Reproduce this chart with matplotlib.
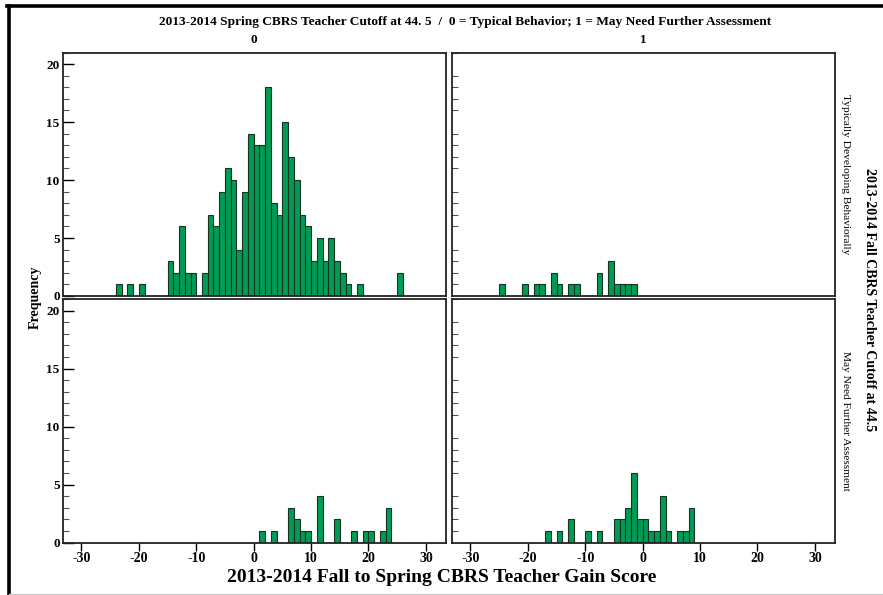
"""Faceted histograms of fall-to-spring CBRS teacher gain scores."""

import matplotlib

matplotlib.use("Agg")
import matplotlib.pyplot as plt
from matplotlib.lines import Line2D
from matplotlib.ticker import MultipleLocator

plt.rcParams["font.family"] = ["Liberation Serif", "DejaVu Serif"]
plt.rcParams["axes.unicode_minus"] = False

# Counts per one-point bin, keyed by the bin's left edge.
# Row = fall group, column = spring group (0 typical, 1 may need assessment).
typical_0_edges = [-24, -22, -20, -15, -14, -13, -12, -11, -9, -8, -7, -6, -5, -4,
                   -3, -2, -1, 0, 1, 2, 3, 4, 5, 6, 7, 8, 9, 10, 11, 12, 13, 14,
                   15, 16, 18, 25]
typical_0_counts = [1, 1, 1, 3, 2, 6, 2, 2, 2, 7, 6, 9, 11, 10,
                    4, 9, 14, 13, 13, 18, 8, 7, 15, 12, 10, 7, 6, 3, 5, 3, 5, 3,
                    2, 1, 1, 2]

typical_1_edges = [-25, -21, -19, -18, -16, -15, -13, -12, -8, -6, -5, -4, -3, -2]
typical_1_counts = [1, 1, 1, 1, 2, 1, 1, 1, 2, 3, 1, 1, 1, 1]

assess_0_edges = [1, 3, 6, 7, 8, 9, 11, 14, 17, 19, 20, 22, 23]
assess_0_counts = [1, 1, 3, 2, 1, 1, 4, 2, 1, 1, 1, 1, 3]

assess_1_edges = [-17, -15, -13, -10, -8, -5, -4, -3, -2, -1, 0, 1, 2, 3, 4, 6, 7, 8]
assess_1_counts = [1, 1, 2, 1, 1, 2, 2, 3, 6, 2, 2, 1, 1, 4, 1, 1, 1, 3]

col_labels = ["0", "1"]
row_labels = ["Typically Developing Behaviorally", "May Need Further Assessment"]
x_ticks = [-30, -20, -10, 0, 10, 20, 30]
y_ticks = [0, 5, 10, 15, 20]

title = ("2013-2014 Spring CBRS Teacher Cutoff at 44. 5  /  "
         "0 = Typical Behavior; 1 = May Need Further Assessment")
x_label = "2013-2014 Fall to Spring CBRS Teacher Gain Score"
y_label = "Frequency"
row_title = "2013-2014 Fall CBRS Teacher Cutoff at 44.5"

BAR_FILL = "#009b55"
BAR_EDGE = "#163322"
W, H = 883, 595

panels = [
    [(typical_0_edges, typical_0_counts), (typical_1_edges, typical_1_counts)],
    [(assess_0_edges, assess_0_counts), (assess_1_edges, assess_1_counts)],
]

fig = plt.figure(figsize=(W / 100, H / 100), dpi=100)

lefts = [62.5, 451.5]
tops = [52.5, 299]
pw, ph = 383.5, 243.5

for r in range(2):
    for c in range(2):
        ax = fig.add_axes([lefts[c] / W, 1 - (tops[r] + ph) / H, pw / W, ph / H])
        edges, counts = panels[r][c]
        ax.bar(edges, counts, width=1.0, align="edge", color=BAR_FILL,
               edgecolor=BAR_EDGE, linewidth=0.8)
        ax.set_xlim(-33.3, 33.5)
        ax.set_ylim(0, 21)
        for spine in ax.spines.values():
            spine.set_linewidth(1.3)
            spine.set_color("#222222")

        ax.yaxis.set_major_locator(MultipleLocator(5))
        ax.yaxis.set_minor_locator(MultipleLocator(1))
        ax.set_yticks(y_ticks)
        if c == 0:
            ax.tick_params(axis="y", which="major", direction="in", length=8,
                           width=1.0, pad=2, labelsize=9.5)
            for lbl in ax.get_yticklabels():
                lbl.set_fontweight("bold")
        else:
            ax.tick_params(axis="y", which="major", length=0, labelleft=False)
        ax.tick_params(axis="y", which="minor", direction="in", length=4,
                       width=0.8, color="#555555")

        ax.set_xticks(x_ticks)
        if r == 1:
            ax.tick_params(axis="x", direction="out", length=6, width=1.0,
                           pad=1, labelsize=10)
            for lbl in ax.get_xticklabels():
                lbl.set_fontweight("bold")
        else:
            ax.tick_params(axis="x", length=0, labelbottom=False)

        if r == 0:
            ax.text(0.5, 1.025, col_labels[c], transform=ax.transAxes,
                    ha="center", va="bottom", fontsize=9.5, fontweight="bold")
        if c == 1:
            ax.text(1.015, 0.5, row_labels[r], transform=ax.transAxes,
                    ha="left", va="center", rotation=-90, fontsize=8.2)

fig.text(465 / W, 1 - 22 / H, title, ha="center", va="center",
         fontsize=9.6, fontweight="bold")
fig.text(442 / W, 1 - 577 / H, x_label, ha="center", va="center",
         fontsize=14, fontweight="bold")
fig.text(35 / W, 1 - 297 / H, y_label, ha="center", va="center",
         rotation=90, fontsize=10, fontweight="bold")
fig.text(869 / W, 1 - 300 / H, row_title, ha="center", va="center",
         rotation=-90, fontsize=10, fontweight="bold")

# page frame: heavy top and left rules, faint bottom rule
fig.add_artist(Line2D([7 / W, 1], [1 - 6 / H, 1 - 6 / H], color="black",
                      linewidth=2.6, transform=fig.transFigure))
fig.add_artist(Line2D([9 / W, 9 / W], [0, 1 - 6 / H], color="black",
                      linewidth=2.6, transform=fig.transFigure))
fig.add_artist(Line2D([9 / W, 1], [1.5 / H, 1.5 / H], color="#cccccc",
                      linewidth=1.0, transform=fig.transFigure))

fig.savefig("out.png", dpi=100)
